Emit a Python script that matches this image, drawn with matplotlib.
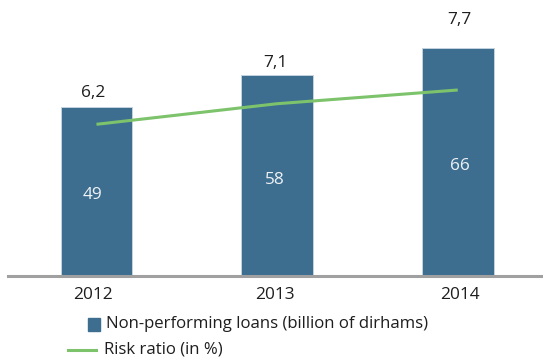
import matplotlib
matplotlib.use("Agg")
import matplotlib.pyplot as plt
from matplotlib.patches import Rectangle
from matplotlib.lines import Line2D

# Data
years = ["2012", "2013", "2014"]
npl = [49, 58, 66]              # non-performing loans, billion of dirhams
risk_ratio = [6.2, 7.1, 7.7]    # risk ratio, %
npl_labels = ["49", "58", "66"]
ratio_labels = ["6,2", "7,1", "7,7"]

BAR = "#3d6e90"
GREEN = "#7dc36b"
TXT = "#1e1e1e"
FONT = "Open Sans"

W, H = 543, 359
fig = plt.figure(figsize=(W / 100, H / 100), dpi=100)

def fx(px):
    return px / W

def fy(py):
    return 1 - py / H

# axes frame in pixels: left, top, right, bottom(spine centre)
L, T, R, B = 7.6, 10, 543, 276
ax = fig.add_axes([fx(L), fy(B), fx(R - L), (B - T) / H])
x = list(range(len(years)))
ax.bar(x, npl, width=0.396, color=BAR, edgecolor="#c3d3df", linewidth=0.7, zorder=1)
ax.set_xlim(-0.492, 2.472)
ax.set_ylim(0, 76.9)

for s in ["top", "left", "right"]:
    ax.spines[s].set_visible(False)
ax.spines["bottom"].set_color("#a0a0a0")
ax.spines["bottom"].set_linewidth(2.2)
ax.spines["bottom"].set_zorder(3)
ax.set_yticks([])
ax.set_xticks(x)
ax.set_xticklabels([])
ax.tick_params(axis="x", length=0)

ax2 = ax.twinx()
ax2.plot(x, risk_ratio, color=GREEN, linewidth=2.2, solid_capstyle="butt", zorder=4)
ax2.set_ylim(-0.433, 11.198)
ax2.axis("off")

# text placement tweaks (pixels)
dx = [-3.6, -2.1, 2.1]
above = [13.2, 12.0, 27.6]
fs = 12.4

for i in x:
    # ratio value above each bar
    ax.annotate(ratio_labels[i], xy=(i, npl[i]), xytext=(dx[i] * 0.72, above[i] * 0.72),
                textcoords="offset points", ha="center", va="center",
                fontsize=fs, color=TXT, family=FONT, zorder=5)
    # loan amount inside each bar
    ax.annotate(npl_labels[i], xy=(i, npl[i] / 2), xytext=(dx[i] * 0.72, -4 * 0.72),
                textcoords="offset points", ha="center", va="center",
                fontsize=fs, color="#eef2f6", family=FONT, zorder=5)
    # category label under the axis
    ax.annotate(years[i], xy=(i, 0), xytext=(dx[i] * 0.72, -19 * 0.72),
                textcoords="offset points", ha="center", va="center",
                fontsize=fs, color=TXT, family=FONT, annotation_clip=False)

# legend
fig.add_artist(Rectangle((fx(88.3), fy(331)), fx(11.6), 13 / H,
                         transform=fig.transFigure, color=BAR))
fig.add_artist(Line2D([fx(67.5), fx(96.3)], [fy(350), fy(350)],
                      transform=fig.transFigure, color=GREEN, linewidth=2.2))
fig.text(fx(105.5), fy(324), "Non-performing loans (billion of dirhams)",
         ha="left", va="center", fontsize=12.05, color=TXT, family=FONT)
fig.text(fx(104.5), fy(350), "Risk ratio (in %)",
         ha="left", va="center", fontsize=12.05, color=TXT, family=FONT)

fig.savefig("out.png", dpi=100)
